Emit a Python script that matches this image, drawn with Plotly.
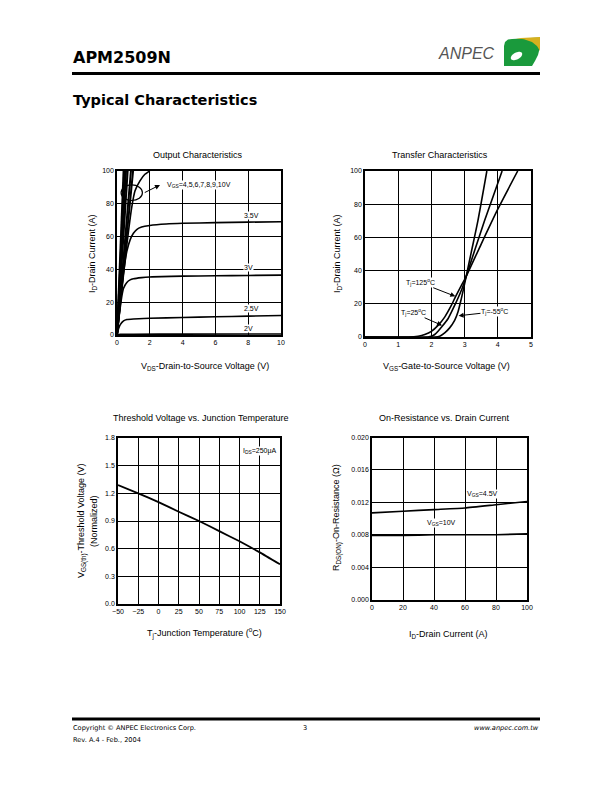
import plotly.graph_objects as go
import math

W, H = 612, 792

# ---------------- data ----------------
# Output characteristics (VDS in V, ID in A)
out_2v_x = [0, 0.2, 1, 4, 10]
out_2v_y = [0, 0.4, 0.5, 0.55, 0.6]
out_25v_x = [0, 0.1, 0.2, 0.4, 0.6, 1, 2, 4, 6, 8, 10]
out_25v_y = [0, 4, 6.3, 8.6, 9.4, 9.8, 10.2, 10.7, 11.1, 11.5, 11.9]
out_3v_x = [0, 0.1, 0.2, 0.3, 0.4, 0.6, 0.8, 1, 1.5, 2, 4, 6, 8, 10]
out_3v_y = [0, 9, 17, 24, 28.5, 32, 33.6, 34.3, 35, 35.4, 35.9, 36.1, 36.3, 36.5]
out_35v_x = [0, 0.2, 0.4, 0.6, 0.8, 1.0, 1.2, 1.5, 2, 3, 4, 6, 8, 10]
out_35v_y = [0, 20, 38, 51, 58, 62, 64.3, 65.8, 66.8, 67.7, 68.1, 68.5, 68.8, 69.1]
out_4v_x = [0, 0.3, 0.6, 0.9, 1.1, 1.4, 1.7, 2.0]
out_4v_y = [0, 28, 55, 78, 88, 94, 98, 100]
out_hi_labels = ["5V", "6V", "7V", "8V", "9V", "10V"]
out_hi_vds_at_100 = [0.98, 0.85, 0.65, 0.55, 0.47, 0.40]

# Transfer characteristics (VGS in V, ID in A)
tr_125_x = [0, 1.3, 1.6, 1.8, 2.0, 2.2, 2.4, 2.6, 2.72, 2.9, 3.0, 3.5, 4.0, 4.6]
tr_125_y = [0, 0, 0.5, 1.5, 3.4, 7, 12, 19, 24, 31, 34.5, 56, 77, 100]
tr_25_x = [0, 1.9, 2.0, 2.1, 2.2, 2.32, 2.5, 2.7, 2.9, 3.0, 3.3, 3.6, 4.13]
tr_25_y = [0, 0, 0.4, 1.5, 3.5, 6.3, 11, 19, 28, 33.5, 52, 70, 100]
tr_m55_x = [0, 2.1, 2.25, 2.4, 2.55, 2.7, 2.8, 2.9, 3.0, 3.2, 3.4, 3.67]
tr_m55_y = [0, 0, 0.5, 2.5, 5.5, 10, 15, 23, 32, 51, 70, 100]

# Threshold voltage vs junction temperature
th_tj = [-50, -25, 0, 25, 50, 75, 100, 125, 150]
th_vth = [1.29, 1.2, 1.105, 1.0, 0.9, 0.79, 0.68, 0.56, 0.43]

# On-resistance vs drain current
ron_id = [0, 20, 40, 60, 80, 100]
ron_45v = [0.0107, 0.0109, 0.0111, 0.0113, 0.0117, 0.0121]
ron_10v = [0.0079, 0.0079, 0.0080, 0.0080, 0.0080, 0.0081]

# ---------------- helpers ----------------
def px(x):
    return x / W

def py(y):
    return 1 - y / H

FONT = "Liberation Sans"
fig = go.Figure()

BLK = "black"
def line(w=1.6):
    return dict(color=BLK, width=w)

# chart 1
for xs, ys in [(out_2v_x, out_2v_y), (out_25v_x, out_25v_y), (out_3v_x, out_3v_y),
               (out_35v_x, out_35v_y), (out_4v_x, out_4v_y)]:
    fig.add_trace(go.Scatter(x=xs, y=ys, mode="lines", line=dict(color=BLK, width=1.6, shape="spline", smoothing=0.6),
                             xaxis="x", yaxis="y", showlegend=False, hoverinfo="skip"))
for v in out_hi_vds_at_100:
    fig.add_trace(go.Scatter(x=[0, v], y=[0, 100], mode="lines", line=line(2.0),
                             xaxis="x", yaxis="y", showlegend=False, hoverinfo="skip"))

# chart 2
for xs, ys in [(tr_125_x, tr_125_y), (tr_25_x, tr_25_y), (tr_m55_x, tr_m55_y)]:
    fig.add_trace(go.Scatter(x=xs, y=ys, mode="lines", line=dict(color=BLK, width=1.6, shape="spline", smoothing=0.6),
                             xaxis="x2", yaxis="y2", showlegend=False, hoverinfo="skip"))

# chart 3
fig.add_trace(go.Scatter(x=th_tj, y=th_vth, mode="lines", line=dict(color=BLK, width=1.8, shape="spline", smoothing=0.4),
                         xaxis="x3", yaxis="y3", showlegend=False, hoverinfo="skip"))

# chart 4
for ys in [ron_45v, ron_10v]:
    fig.add_trace(go.Scatter(x=ron_id, y=ys, mode="lines", line=dict(color=BLK, width=1.6, shape="spline", smoothing=0.4),
                             xaxis="x4", yaxis="y4", showlegend=False, hoverinfo="skip"))

def axis(dom, rng, dtick, anchor, fmt=None):
    d = dict(domain=dom, range=rng, dtick=dtick, tick0=rng[0], anchor=anchor,
             showgrid=True, gridcolor=BLK, gridwidth=1.2,
             showline=True, linecolor=BLK, linewidth=1.5, mirror=True,
             zeroline=False, ticks="", fixedrange=True, automargin=False,
             tickfont=dict(family=FONT, size=7, color=BLK))
    if fmt:
        d["tickformat"] = fmt
    return d

# plot area pixel boxes (left, right, top, bottom)
B1 = (117, 281, 171, 335)
B2 = (365, 531, 171, 337)
B3 = (118, 280, 438, 604)
B4 = (372, 527, 437.5, 599.5)

def xd(b):
    return [px(b[0]), px(b[1])]

def yd(b):
    return [py(b[3]), py(b[2])]

fig.update_layout(
    width=W, height=H, autosize=False,
    margin=dict(l=0, r=0, t=0, b=0, pad=0, autoexpand=False),
    paper_bgcolor="white", plot_bgcolor="white",
    showlegend=False,
    xaxis=axis(xd(B1), [0, 10], 2, "y"),
    yaxis=axis(yd(B1), [0, 100], 20, "x"),
    xaxis2=axis(xd(B2), [0, 5], 1, "y2"),
    yaxis2=axis(yd(B2), [0, 100], 20, "x2"),
    xaxis3=axis(xd(B3), [-50, 150], 25, "y3"),
    yaxis3=axis(yd(B3), [0, 1.8], 0.3, "x3", ".1f"),
    xaxis4=axis(xd(B4), [0, 100], 20, "y4"),
    yaxis4=axis(yd(B4), [0, 0.02], 0.004, "x4", ".3f"),
)

ann = []
def text(x, y, s, size=9, xanchor="center", yanchor="middle", family=FONT, color=BLK, angle=0, bg=None):
    a = dict(x=px(x), y=py(y), xref="paper", yref="paper", text=s, showarrow=False,
             xanchor=xanchor, yanchor=yanchor, textangle=angle,
             font=dict(family=family, size=size, color=color))
    if bg:
        a["bgcolor"] = bg
    ann.append(a)

# page header / footer
HF = "DejaVu Sans"
text(71, 58, "<b>APM2509N</b>", size=16, xanchor="left", family=HF)
text(71, 99.5, "<b>Typical Characteristics</b>", size=14.5, xanchor="left", family=HF)
text(497, 53, "<i>ANPEC</i>", size=16, xanchor="right", family=FONT, color="#555555")
text(71, 728, "Copyright © ANPEC Electronics Corp.", size=6.6, xanchor="left", family=HF)
text(71, 740, "Rev. A.4 - Feb., 2004", size=6.6, xanchor="left", family=HF)
text(305, 728, "3", size=6.6, family=HF)
text(541, 728, "<i>www.anpec.com.tw</i>", size=6.6, xanchor="right", family=HF)

# chart titles
text(198, 155, "Output Characteristics")
text(440, 155, "Transfer Characteristics")
text(200, 418, "Threshold Voltage vs. Junction Temperature")
text(444, 418, "On-Resistance vs. Drain Current")

# axis titles
text(205, 366, "V<sub>DS</sub>-Drain-to-Source Voltage (V)")
text(446, 366, "V<sub>GS</sub>-Gate-to-Source Voltage (V)")
text(204, 633, "T<sub>j</sub>-Junction Temperature (<sup>o</sup>C)")
text(449, 634, "I<sub>D</sub>-Drain Current (A)")
text(93, 253, "I<sub>D</sub>-Drain Current (A)", angle=-90)
text(337, 254, "I<sub>D</sub>-Drain Current (A)", angle=-90)
text(82, 521, "V<sub>GS(th)</sub>-Threshold Voltage (V)", angle=-90)
text(94, 521, "(Normalized)", angle=-90)
text(337, 518, "R<sub>DS(ON)</sub>-On-Resistance (Ω)", angle=-90)

def dtext(x, y, s, xr, yr, size=7, xanchor="center"):
    ann.append(dict(x=x, y=y, xref=xr, yref=yr, text=s, showarrow=False, xanchor=xanchor,
                    font=dict(family=FONT, size=size, color=BLK), bgcolor="white", borderpad=0))

# chart 1 labels
dtext(8.2, 73, "3.5V", "x", "y")
dtext(8.0, 41, "3V", "x", "y")
dtext(8.2, 16, "2.5V", "x", "y")
dtext(8.0, 4, "2V", "x", "y")
dtext(3.0, 91.5, "V<sub>GS</sub>=4,5,6,7,8,9,10V", "x", "y", xanchor="left")
ann.append(dict(x=2.62, y=91.5, xref="x", yref="y", ax=1.6, ay=86.4, axref="x", ayref="y",
                text="", showarrow=True, arrowhead=2, arrowsize=1, arrowwidth=1, arrowcolor=BLK))

# chart 2 labels with arrows
def arrow_label(x, y, tx, ty, s, xr, yr):
    ann.append(dict(x=x, y=y, xref=xr, yref=yr, ax=tx, ay=ty, axref=xr, ayref=yr,
                    text=s, showarrow=True, arrowhead=2, arrowsize=1, arrowwidth=1, arrowcolor=BLK,
                    font=dict(family=FONT, size=7, color=BLK), bgcolor="white", borderpad=0))

arrow_label(2.72, 24.5, 1.67, 32.7, "T<sub>j</sub>=125<sup>o</sup>C", "x2", "y2")
arrow_label(2.32, 7.0, 1.45, 14.6, "T<sub>j</sub>=25<sup>o</sup>C", "x2", "y2")
arrow_label(2.82, 12.8, 3.9, 15.2, "T<sub>j</sub>=-55<sup>o</sup>C", "x2", "y2")

# chart 3 label
dtext(125, 1.66, "I<sub>DS</sub>=250μA", "x3", "y3")

# chart 4 labels
dtext(71, 0.0130, "V<sub>GS</sub>=4.5V", "x4", "y4")
dtext(45, 0.0095, "V<sub>GS</sub>=10V", "x4", "y4")

fig.update_layout(annotations=ann)

# shapes: header/footer rules, ellipse, logo
shapes = []
shapes.append(dict(type="line", xref="paper", yref="paper", x0=px(72), x1=px(540), y0=py(73.5), y1=py(73.5),
                   line=dict(color=BLK, width=3)))
shapes.append(dict(type="line", xref="paper", yref="paper", x0=px(72), x1=px(540), y0=py(719), y1=py(719),
                   line=dict(color=BLK, width=3)))
shapes.append(dict(type="circle", xref="x", yref="y", x0=0.25, x1=1.55, y0=82, y1=91.5,
                   line=dict(color=BLK, width=1.2)))

def ppath(pts, close=True):
    s = "M " + " L ".join(f"{px(a):.5f},{py(b):.5f}" for a, b in pts)
    return s + (" Z" if close else "")

green = [(504, 66), (504, 46), (505, 42), (508, 39.5), (512, 39), (540, 37.5), (540, 47),
         (538, 55), (535, 61), (532, 66)]
shapes.append(dict(type="path", xref="paper", yref="paper", path=ppath(green),
                   fillcolor="#1a9a3c", line=dict(width=0)))
yellow = [(516, 38.2), (540, 37), (540, 51), (537, 46), (532, 42), (524, 39.3)]
shapes.append(dict(type="path", xref="paper", yref="paper", path=ppath(yellow),
                   fillcolor="#d6b01e", line=dict(width=0)))
cx, cy, rx, ry, ang = 516.5, 56, 6.2, 3.4, -28
ell = []
for k in range(36):
    t = 2 * math.pi * k / 36
    ex, ey = rx * math.cos(t), ry * math.sin(t)
    ca, sa = math.cos(math.radians(ang)), math.sin(math.radians(ang))
    ell.append((cx + ex * ca - ey * sa, cy + ex * sa + ey * ca))
shapes.append(dict(type="path", xref="paper", yref="paper", path=ppath(ell),
                   fillcolor="white", line=dict(width=0)))
fig.update_layout(shapes=shapes)

fig.write_html("out.html", config={"displayModeBar": False},
               post_script="document.body.style.margin='0';document.body.style.overflow='hidden';")
